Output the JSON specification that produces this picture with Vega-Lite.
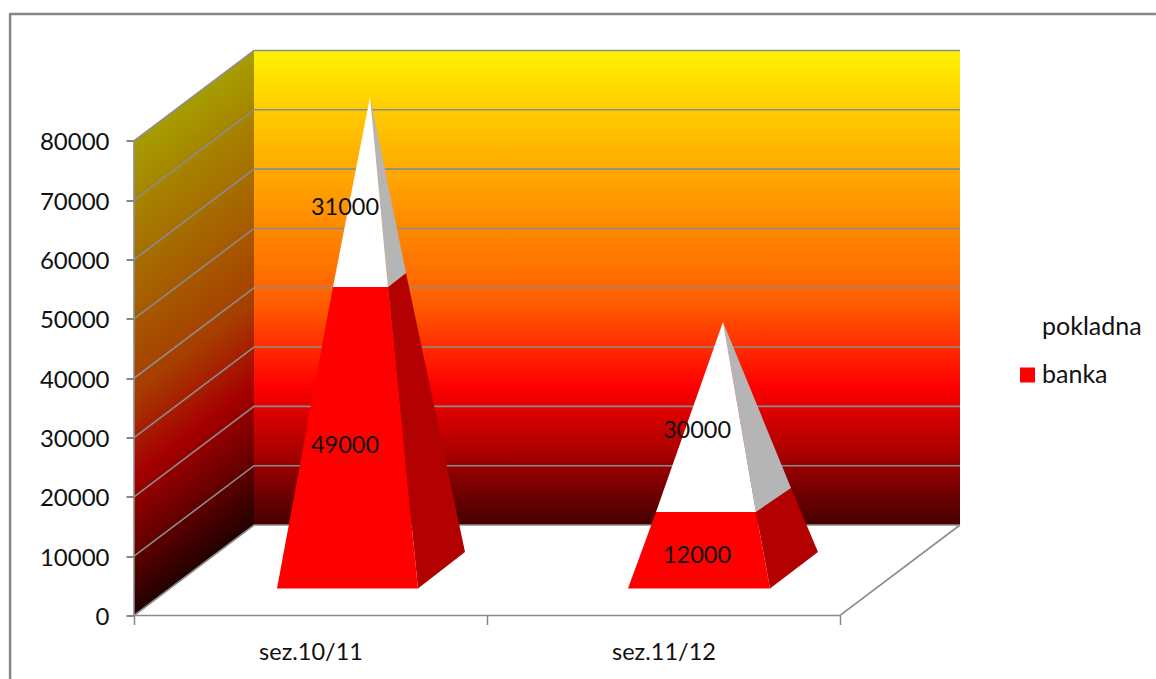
{
"$schema":"https://vega.github.io/schema/vega-lite/v6.json",
"width":826,"height":565,
"autosize":{"type":"none"},
"padding":{"left":134,"top":50.5,"right":196,"bottom":63.5},
"background":"white",
"config":{"view":{"stroke":null},"font":"Lato"},
"datasets":{
"walls":[
{"wall":"back","v":1,"x":0.34,"y":15258},{"wall":"back","v":2,"x":2.34,"y":15258},{"wall":"back","v":3,"x":2.34,"y":95258},{"wall":"back","v":4,"x":0.34,"y":95258},
{"wall":"side","v":1,"x":0,"y":0},{"wall":"side","v":2,"x":0.34,"y":15258},{"wall":"side","v":3,"x":0.34,"y":95258},{"wall":"side","v":4,"x":0,"y":80000}
],
"lines":[
{"line":"g0","v":1,"x":0,"y":0},{"line":"g0","v":2,"x":0.34,"y":15258},{"line":"g0","v":3,"x":2.34,"y":15258},
{"line":"g10","v":1,"x":0,"y":10000},{"line":"g10","v":2,"x":0.34,"y":25258},{"line":"g10","v":3,"x":2.34,"y":25258},
{"line":"g20","v":1,"x":0,"y":20000},{"line":"g20","v":2,"x":0.34,"y":35258},{"line":"g20","v":3,"x":2.34,"y":35258},
{"line":"g30","v":1,"x":0,"y":30000},{"line":"g30","v":2,"x":0.34,"y":45258},{"line":"g30","v":3,"x":2.34,"y":45258},
{"line":"g40","v":1,"x":0,"y":40000},{"line":"g40","v":2,"x":0.34,"y":55258},{"line":"g40","v":3,"x":2.34,"y":55258},
{"line":"g50","v":1,"x":0,"y":50000},{"line":"g50","v":2,"x":0.34,"y":65258},{"line":"g50","v":3,"x":2.34,"y":65258},
{"line":"g60","v":1,"x":0,"y":60000},{"line":"g60","v":2,"x":0.34,"y":75258},{"line":"g60","v":3,"x":2.34,"y":75258},
{"line":"g70","v":1,"x":0,"y":70000},{"line":"g70","v":2,"x":0.34,"y":85258},{"line":"g70","v":3,"x":2.34,"y":85258},
{"line":"g80","v":1,"x":0,"y":80000},{"line":"g80","v":2,"x":0.34,"y":95258},{"line":"g80","v":3,"x":2.34,"y":95258},
{"line":"axis","v":1,"x":0,"y":80000},{"line":"axis","v":2,"x":0,"y":0},{"line":"axis","v":3,"x":2,"y":0},{"line":"axis","v":4,"x":2.34,"y":15258}
],
"frame":[
{"v":1,"x":-0.351,"y":-10706},{"v":2,"x":-0.351,"y":101413},{"v":3,"x":2.895,"y":101413}
],
"faces":[
{"season":"sez.10/11","series":"banka","face":"front","v":1,"x":0.4051,"y":4552},
{"season":"sez.10/11","series":"banka","face":"front","v":2,"x":0.8045,"y":4552},
{"season":"sez.10/11","series":"banka","face":"front","v":3,"x":0.7195,"y":55385},
{"season":"sez.10/11","series":"banka","face":"front","v":4,"x":0.5637,"y":55385},
{"season":"sez.10/11","series":"banka","face":"side","v":1,"x":0.8045,"y":4552},
{"season":"sez.10/11","series":"banka","face":"side","v":2,"x":0.9377,"y":10706},
{"season":"sez.10/11","series":"banka","face":"side","v":3,"x":0.7705,"y":57746},
{"season":"sez.10/11","series":"banka","face":"side","v":4,"x":0.7195,"y":55385},
{"season":"sez.10/11","series":"pokladna","face":"front","v":1,"x":0.5637,"y":55385},
{"season":"sez.10/11","series":"pokladna","face":"front","v":2,"x":0.7195,"y":55385},
{"season":"sez.10/11","series":"pokladna","face":"front","v":3,"x":0.6686,"y":87419},
{"season":"sez.10/11","series":"pokladna","face":"side","v":1,"x":0.7195,"y":55385},
{"season":"sez.10/11","series":"pokladna","face":"side","v":2,"x":0.7705,"y":57746},
{"season":"sez.10/11","series":"pokladna","face":"side","v":3,"x":0.6686,"y":87419},
{"season":"sez.11/12","series":"banka","face":"front","v":1,"x":1.3994,"y":4552},
{"season":"sez.11/12","series":"banka","face":"front","v":2,"x":1.8017,"y":4552},
{"season":"sez.11/12","series":"banka","face":"front","v":3,"x":1.762,"y":17450},
{"season":"sez.11/12","series":"banka","face":"front","v":4,"x":1.4788,"y":17450},
{"season":"sez.11/12","series":"banka","face":"side","v":1,"x":1.8017,"y":4552},
{"season":"sez.11/12","series":"banka","face":"side","v":2,"x":1.9377,"y":10706},
{"season":"sez.11/12","series":"banka","face":"side","v":3,"x":1.8612,"y":21497},
{"season":"sez.11/12","series":"banka","face":"side","v":4,"x":1.762,"y":17450},
{"season":"sez.11/12","series":"pokladna","face":"front","v":1,"x":1.4788,"y":17450},
{"season":"sez.11/12","series":"pokladna","face":"front","v":2,"x":1.762,"y":17450},
{"season":"sez.11/12","series":"pokladna","face":"front","v":3,"x":1.6686,"y":49484},
{"season":"sez.11/12","series":"pokladna","face":"side","v":1,"x":1.762,"y":17450},
{"season":"sez.11/12","series":"pokladna","face":"side","v":2,"x":1.8612,"y":21497},
{"season":"sez.11/12","series":"pokladna","face":"side","v":3,"x":1.6686,"y":49484}
],
"labels":[
{"season":"sez.10/11","series":"banka","value":49000,"x":0.5977,"y":28616},
{"season":"sez.10/11","series":"pokladna","value":31000,"x":0.5977,"y":68743},
{"season":"sez.11/12","series":"banka","value":12000,"x":1.5949,"y":10070},
{"season":"sez.11/12","series":"pokladna","value":30000,"x":1.5949,"y":31145}
]
},
"encoding":{
"x":{"field":"x","type":"quantitative","title":null,"scale":{"domain":[0,2.34],"nice":false,"zero":false},
"axis":{"values":[0,0.5,1,1.5,2],"labelExpr":"datum.value==0.5?'sez.10/11':datum.value==1.5?'sez.11/12':''","domain":false,"grid":false,"tickColor":"#868686","tickWidth":1.5,"tickSize":9,"tickOpacity":{"expr":"datum.value==0.5||datum.value==1.5?0:1"},"labelFont":"Lato","labelFontSize":23.5,"labelColor":"#111111","labelPadding":16,"labelAngle":0,"labelFlush":false,"labelOverlap":false}},
"y":{"field":"y","type":"quantitative","title":null,"scale":{"domain":[0,95258],"nice":false,"zero":false},
"axis":{"values":[0,10000,20000,30000,40000,50000,60000,70000,80000],"format":"d","domain":false,"grid":false,"tickColor":"#868686","tickWidth":2,"tickSize":8,"labelFont":"Lato","labelFontSize":24,"labelColor":"#111111","labelPadding":17,"labelOffset":2,"labelOverlap":false,"labelFlush":false}},
"order":{"field":"v","type":"quantitative"}
},
"layer":[
{"data":{"name":"frame"},"mark":{"type":"line","stroke":"#868686","strokeWidth":2.5,"clip":false}},
{"data":{"name":"walls"},"transform":[{"filter":"datum.wall=='back'"}],
"mark":{"type":"line","strokeWidth":0,"fill":{"gradient":"linear","x1":0,"y1":0,"x2":0,"y2":1,"stops":[{"offset":0,"color":"#fff200"},{"offset":0.127,"color":"#ffcb00"},{"offset":0.53,"color":"#ff5f00"},{"offset":0.707,"color":"#ff0000"},{"offset":0.85,"color":"#a80000"},{"offset":1,"color":"#450000"}]}}},
{"data":{"name":"walls"},"transform":[{"filter":"datum.wall=='side'"}],
"mark":{"type":"line","strokeWidth":0,"fill":{"gradient":"linear","x1":0,"y1":0.16,"x2":0.131,"y2":0.979,"stops":[{"offset":0,"color":"#a69e00"},{"offset":0.127,"color":"#a68400"},{"offset":0.53,"color":"#a63e00"},{"offset":0.707,"color":"#a60000"},{"offset":0.85,"color":"#6a0000"},{"offset":1,"color":"#220000"}]}}},
{"data":{"name":"lines"},"mark":{"type":"line","stroke":"#8c8c8c","strokeWidth":1.6},"encoding":{"detail":{"field":"line"}}},
{"data":{"name":"faces"},"transform":[{"filter":"datum.face=='side'&&datum.series=='banka'"}],
"mark":{"type":"line","strokeWidth":0,"fill":"#b30000"},"encoding":{"detail":{"field":"season"}}},
{"data":{"name":"faces"},"transform":[{"filter":"datum.face=='side'&&datum.series=='pokladna'"}],
"mark":{"type":"line","strokeWidth":0,"fill":"#b5b5b5"},"encoding":{"detail":{"field":"season"}}},
{"data":{"name":"faces"},"transform":[{"filter":"datum.face=='front'"}],
"mark":{"type":"line","strokeWidth":0},
"encoding":{"detail":{"field":"season"},
"fill":{"field":"series","type":"nominal","scale":{"domain":["pokladna","banka"],"range":["#ffffff","#ff0000"]},
"legend":{"orient":"none","legendX":881,"legendY":263,"title":null,"symbolType":"square","symbolSize":225,"symbolStrokeWidth":0,"symbolOpacity":1,"labelFont":"Lato","labelFontSize":25,"labelColor":"#111111","labelOffset":2,"rowPadding":21,"clipHeight":27}}}},
{"data":{"name":"labels"},"mark":{"type":"text","font":"Lato","fontSize":23.5,"color":"#111111","align":"center","baseline":"middle"},
"encoding":{"text":{"field":"value","type":"quantitative","format":"d"}}}
]
}
